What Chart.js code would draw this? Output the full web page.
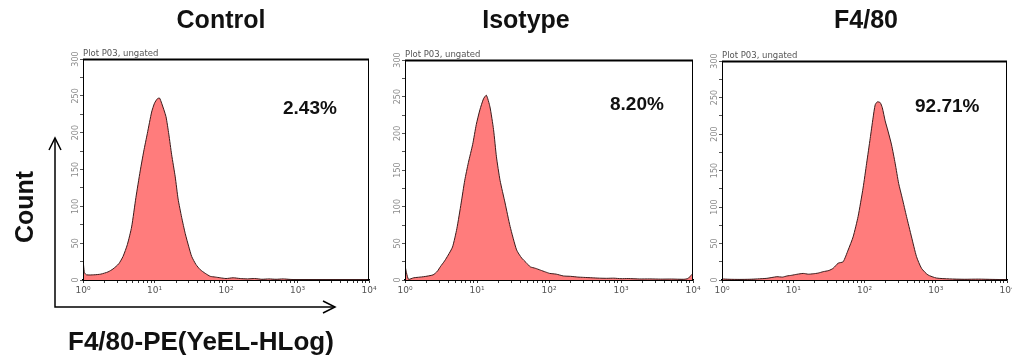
<!DOCTYPE html>
<html><head><meta charset="utf-8">
<script src="https://cdn.jsdelivr.net/npm/chart.js@4/dist/chart.umd.min.js"></script>
<style>
body{margin:0;background:#fff;}
#wrap{position:relative;width:1012px;height:360px;overflow:hidden;font-family:'Liberation Sans',Arial,sans-serif;background:#fff;}
canvas{position:absolute;}
.t{position:absolute;font-weight:bold;color:#111;white-space:nowrap;line-height:1;}
svg{position:absolute;left:0;top:0;}
</style></head><body>
<div id="wrap">
<canvas id="c0" width="316" height="264" style="left:61px;top:40px;width:316px;height:264px"></canvas>
<canvas id="c1" width="318" height="263" style="left:383px;top:41px;width:318px;height:263px"></canvas>
<canvas id="c2" width="312" height="262" style="left:700px;top:42px;width:312px;height:262px"></canvas>
<svg width="1012" height="360">
  <polyline points="55,138 55,307 335,307" fill="none" stroke="#000" stroke-width="1.5"/>
  <polyline points="49,150 55,138 61,150" fill="none" stroke="#000" stroke-width="1.5"/>
  <polyline points="323,301 335,307 323,313" fill="none" stroke="#000" stroke-width="1.5"/>
</svg>
<div class="t" style="left:24px;top:207px;font-size:25px;transform:translate(-50%,-50%) rotate(-90deg);">Count</div>
<div class="t" style="left:68px;top:328px;font-size:26px;">F4/80-PE(YeEL-HLog)</div>
</div>
<script>
// ---- data ----
const panelTitles = ['Control', 'Isotype', 'F4/80'];
const percentLabels = ['2.43%', '8.20%', '92.71%'];
const plotCaption = 'Plot P03, ungated';
const xTickLabels = ['10\u2070', '10\u00b9', '10\u00b2', '10\u00b3', '10\u2074'];
const yTickLabels = [0, 50, 100, 150, 200, 250, 300];

// log10 of fluorescence intensity, and counts
const controlLog = [0.00,0.02,0.05,0.15,0.25,0.35,0.42,0.50,0.56,0.62,0.68,0.74,0.80,0.85,0.90,0.96,1.00,1.04,1.07,1.10,1.16,1.20,1.24,1.29,1.33,1.38,1.43,1.48,1.52,1.58,1.64,1.71,1.78,1.85,1.92,2.00,2.10,2.20,2.30,2.40,2.50,2.60,2.70,2.80,2.90,3.00,3.20,3.50,3.80,4.00];
const controlCount = [29,10,7,7,8,11,15,22,32,48,72,112,148,175,199,228,240,246,247,240,222,198,170,140,110,85,63,45,32,21,14,9,5,4,3,2,3,2,1.5,2,1,1.5,1,1.5,0.8,0.5,0.5,0.3,0.2,0];

const isotypeLog = [0.00,0.02,0.05,0.12,0.26,0.39,0.45,0.49,0.55,0.60,0.66,0.72,0.78,0.83,0.88,0.94,0.99,1.04,1.09,1.13,1.18,1.23,1.27,1.32,1.39,1.46,1.55,1.62,1.68,1.74,1.81,1.88,1.95,2.01,2.10,2.20,2.30,2.40,2.48,2.60,2.70,2.80,2.90,3.00,3.10,3.26,3.40,3.55,3.70,3.87,3.93,3.97,4.00];
const isotypeCount = [20,10,1,3,4.5,7,12,18,26,34,45,70,105,136,160,185,212,232,247,252,236,205,168,136,105,73,41,30,24,18,16,13.5,11,9,8,5.5,5,4,3.6,3,2.5,2.3,2.5,1.8,2,1.4,1.5,1.2,1.3,1,2,6,9];

const f480Log = [0.00,0.10,0.25,0.39,0.50,0.63,0.77,0.85,0.91,0.98,1.05,1.14,1.21,1.28,1.35,1.42,1.50,1.56,1.63,1.70,1.77,1.84,1.91,1.98,2.03,2.08,2.12,2.15,2.18,2.22,2.25,2.29,2.33,2.38,2.43,2.48,2.53,2.59,2.66,2.73,2.80,2.89,3.01,3.19,3.40,3.60,3.80,4.00];
const f480Count = [1.5,1,0.8,1,1.5,2.3,4.5,4,5.5,6.5,7.8,9,8,8.5,9.5,11.4,13,16,23,25,41,59,87,126,160,194,222,240,244,243,236,218,204,185,160,132,112,87,59,32,16,7,2.7,1.5,1,1.2,0.8,0.5];

// ---- layout (not data) ----
const panelLayout = [
  {title: 221, pctLeft: 283, pctTop: 98, right: 8},
  {title: 526, pctLeft: 610, pctTop: 94, right: 8},
  {title: 866, pctLeft: 915, pctTop: 96, right: 5}
];

const series = [[controlLog, controlCount], [isotypeLog, isotypeCount], [f480Log, f480Count]];

const wrap = document.getElementById('wrap');
panelTitles.forEach((t, i) => {
  const d = document.createElement('div');
  d.className = 't';
  d.textContent = t;
  d.style.cssText = `left:${panelLayout[i].title}px;top:7px;font-size:25px;transform:translateX(-50%);`;
  wrap.appendChild(d);
  const p = document.createElement('div');
  p.className = 't';
  p.textContent = percentLabels[i];
  p.style.cssText = `left:${panelLayout[i].pctLeft}px;top:${panelLayout[i].pctTop}px;font-size:19px;`;
  wrap.appendChild(p);
});

const xTickValues = [];
for (let d = 0; d <= 4; d++) {
  xTickValues.push(d);
  if (d < 4) for (let k = 2; k <= 9; k++) xTickValues.push(d + Math.log10(k));
}

const framePlugin = {
  id: 'frame',
  afterDraw(chart) {
    const {ctx, chartArea: a, scales} = chart;
    ctx.save();
    ctx.strokeStyle = '#000';
    ctx.lineWidth = 1;
    ctx.strokeRect(a.left + 0.5, a.top + 0.5, a.right - a.left - 1, a.bottom - a.top);
    ctx.lineWidth = 2;
    ctx.beginPath(); ctx.moveTo(a.left, a.top + 0.5); ctx.lineTo(a.right, a.top + 0.5); ctx.stroke();
    // rotated y tick labels
    ctx.fillStyle = '#8a8a8a';
    ctx.font = '8px "DejaVu Sans"';
    ctx.textAlign = 'center';
    ctx.textBaseline = 'middle';
    yTickLabels.forEach(v => {
      const y = scales.y.getPixelForValue(v);
      ctx.save();
      ctx.translate(a.left - 7.5, y);
      ctx.rotate(-Math.PI / 2);
      ctx.fillText(String(v), 0, 0);
      ctx.restore();
    });
    ctx.fillStyle = '#555';
    ctx.font = '8.5px "DejaVu Sans"';
    ctx.textAlign = 'left';
    ctx.textBaseline = 'alphabetic';
    ctx.fillText(plotCaption, a.left, a.top - 3);
    ctx.restore();
  }
};

series.forEach(([lx, cy], i) => {
  const pts = lx.map((x, j) => ({x, y: cy[j]}));
  new Chart(document.getElementById('c' + i), {
    type: 'line',
    data: {datasets: [{
      data: pts,
      fill: 'origin',
      backgroundColor: 'rgb(255,124,124)',
      borderColor: '#3a1a1a',
      borderWidth: 1,
      pointRadius: 0,
      tension: 0.2
    }]},
    options: {
      responsive: false,
      animation: false,
      devicePixelRatio: 1,
      layout: {padding: {top: 19, right: panelLayout[i].right, left: 0, bottom: 0}},
      plugins: {legend: {display: false}, tooltip: {enabled: false}},
      scales: {
        x: {
          type: 'linear', min: 0, max: 4,
          afterBuildTicks: s => { s.ticks = xTickValues.map(v => ({value: v})); },
          afterFit: s => { s.height = 24; s.paddingLeft = 0; s.paddingRight = 0; },
          ticks: {
            autoSkip: false, maxRotation: 0, minRotation: 0, padding: 2,
            color: '#555', font: {family: 'DejaVu Sans', size: 9},
            callback: v => Number.isInteger(v) ? xTickLabels[v] : ''
          },
          grid: {drawOnChartArea: false, tickLength: 3, color: '#333'},
          border: {color: '#000', width: 1.5}
        },
        y: {
          min: 0, max: 300,
          ticks: {display: false, stepSize: 25},
          afterFit: s => { s.width = 22; },
          grid: {drawOnChartArea: false, tickLength: 3, color: '#555'},
          border: {color: '#000', width: 1}
        }
      }
    },
    plugins: [framePlugin]
  });
});
</script>
</body></html>
